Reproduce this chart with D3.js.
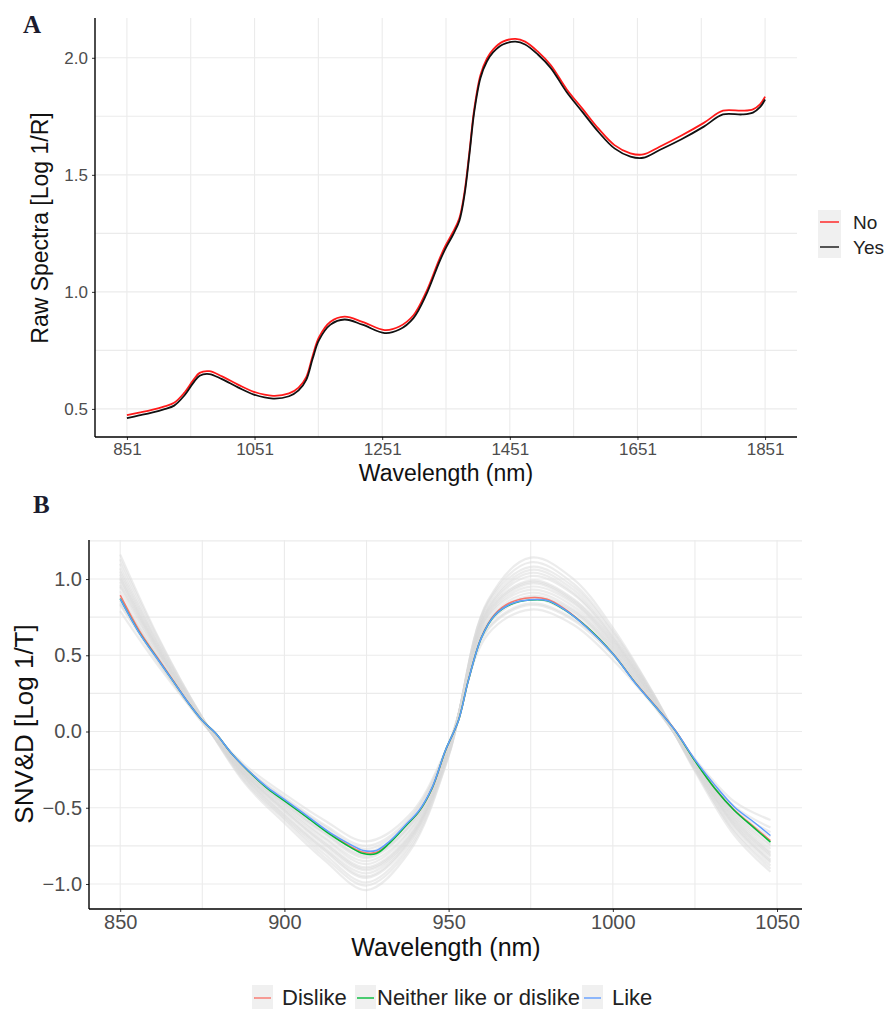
<!DOCTYPE html>
<meta charset="UTF-8">
<style>
body { margin: 0; background: #fff; }
.tick text { font-family: "Liberation Sans", Arial, sans-serif; fill: #4d4d4d; }
.tick line { stroke: #333; }
.domain { display: none; }
</style>
<body>
<div class="chart"></div>
<script src="https://d3js.org/d3.v7.min.js"></script>
<script>
// ---- Panel A: raw spectra, mean of No / Yes ----
var wlA = [851, 870, 890, 910, 925, 940, 955, 965, 980, 1000, 1025, 1050, 1080, 1105, 1120, 1132, 1142, 1152,
  1170, 1192, 1220, 1255, 1278, 1300, 1320, 1340, 1350, 1362, 1372, 1380, 1388, 1395, 1405, 1415, 1425, 1440,
  1460, 1475, 1495, 1515, 1540, 1565, 1590, 1615, 1640, 1660, 1685, 1720, 1755, 1785, 1815, 1832, 1843, 1851];
var noA = [0.473, 0.484, 0.496, 0.511, 0.526, 0.566, 0.623, 0.654, 0.661, 0.639, 0.604, 0.573, 0.556, 0.566, 0.591,
  0.636, 0.726, 0.806, 0.872, 0.894, 0.872, 0.837, 0.852, 0.900, 1.000, 1.136, 1.196, 1.256, 1.316, 1.426, 1.606,
  1.776, 1.926, 1.996, 2.036, 2.069, 2.081, 2.069, 2.026, 1.969, 1.866, 1.782, 1.697, 1.627, 1.592, 1.587, 1.619,
  1.668, 1.722, 1.774, 1.774, 1.780, 1.801, 1.834];
var yesA = [0.461, 0.472, 0.484, 0.499, 0.514, 0.554, 0.611, 0.642, 0.649, 0.627, 0.592, 0.561, 0.544, 0.554, 0.579,
  0.624, 0.714, 0.794, 0.860, 0.882, 0.860, 0.824, 0.839, 0.888, 0.988, 1.124, 1.184, 1.244, 1.304, 1.414, 1.594,
  1.764, 1.914, 1.984, 2.024, 2.057, 2.069, 2.057, 2.014, 1.957, 1.854, 1.768, 1.683, 1.613, 1.578, 1.573, 1.605,
  1.652, 1.706, 1.758, 1.758, 1.766, 1.789, 1.822];
var ticksA_x = [851, 1051, 1251, 1451, 1651, 1851];
var ticksA_y = [0.5, 1.0, 1.5, 2.0];

// ---- Panel B: SNV & derivative, class means ----
var wlB = [850, 856, 861, 866, 871, 875, 879, 884, 889, 895, 900, 907, 914, 920, 924, 928, 932, 937, 941, 945,
  949, 953, 956, 960, 964, 969, 975, 980, 985, 992, 1000, 1007, 1014, 1019, 1025, 1031, 1037, 1043, 1048];
var dislikeB = [0.895, 0.655, 0.495, 0.338, 0.182, 0.072, -0.01, -0.146, -0.258, -0.374, -0.452, -0.562, -0.672,
  -0.752, -0.792, -0.792, -0.728, -0.616, -0.524, -0.372, -0.128, 0.072, 0.334, 0.62, 0.768, 0.848, 0.878, 0.868,
  0.81, 0.688, 0.512, 0.316, 0.14, 0.008, -0.19, -0.37, -0.515, -0.625, -0.715];
var neitherB = [0.872, 0.642, 0.488, 0.334, 0.18, 0.072, -0.01, -0.146, -0.258, -0.376, -0.455, -0.565, -0.676,
  -0.758, -0.800, -0.800, -0.732, -0.618, -0.524, -0.37, -0.126, 0.072, 0.334, 0.616, 0.76, 0.835, 0.862, 0.857,
  0.802, 0.686, 0.51, 0.314, 0.138, 0.006, -0.192, -0.372, -0.518, -0.632, -0.725];
var likeB = [0.87, 0.64, 0.487, 0.334, 0.18, 0.072, -0.01, -0.146, -0.256, -0.37, -0.445, -0.555, -0.665, -0.74,
  -0.78, -0.78, -0.72, -0.61, -0.518, -0.366, -0.125, 0.072, 0.334, 0.616, 0.761, 0.837, 0.864, 0.859, 0.804,
  0.684, 0.51, 0.313, 0.138, 0.007, -0.185, -0.35, -0.495, -0.595, -0.682];

// individual spectra (grey), coarser grid
var wlS = [850, 862, 875, 888, 900, 912, 925, 938, 950, 962, 975, 988, 1000, 1012, 1025, 1037, 1048];
var spectraB = [
  [0.79, 0.42, 0.07, -0.22, -0.41, -0.58, -0.72, -0.55, -0.08, 0.64, 0.80, 0.70, 0.47, 0.18, -0.18, -0.46, -0.58],
  [0.83, 0.44, 0.07, -0.24, -0.43, -0.61, -0.75, -0.57, -0.09, 0.67, 0.83, 0.73, 0.50, 0.19, -0.19, -0.49, -0.63],
  [0.88, 0.47, 0.08, -0.25, -0.46, -0.64, -0.79, -0.60, -0.10, 0.70, 0.87, 0.76, 0.52, 0.20, -0.20, -0.52, -0.69],
  [0.86, 0.45, 0.06, -0.26, -0.47, -0.66, -0.81, -0.62, -0.11, 0.71, 0.88, 0.78, 0.53, 0.20, -0.21, -0.54, -0.74],
  [0.92, 0.49, 0.08, -0.26, -0.48, -0.67, -0.83, -0.63, -0.11, 0.73, 0.91, 0.80, 0.55, 0.21, -0.21, -0.55, -0.75],
  [0.95, 0.50, 0.08, -0.27, -0.49, -0.69, -0.85, -0.65, -0.12, 0.75, 0.93, 0.82, 0.56, 0.22, -0.22, -0.56, -0.77],
  [0.96, 0.51, 0.07, -0.28, -0.50, -0.70, -0.87, -0.66, -0.12, 0.76, 0.95, 0.84, 0.57, 0.22, -0.22, -0.57, -0.79],
  [0.98, 0.52, 0.08, -0.28, -0.51, -0.72, -0.89, -0.68, -0.13, 0.77, 0.97, 0.85, 0.58, 0.23, -0.22, -0.58, -0.80],
  [1.01, 0.53, 0.08, -0.29, -0.52, -0.74, -0.91, -0.70, -0.13, 0.79, 0.99, 0.87, 0.60, 0.23, -0.23, -0.60, -0.82],
  [1.03, 0.54, 0.08, -0.30, -0.54, -0.76, -0.93, -0.71, -0.14, 0.80, 1.02, 0.90, 0.61, 0.24, -0.23, -0.61, -0.84],
  [1.05, 0.55, 0.09, -0.30, -0.55, -0.77, -0.95, -0.72, -0.14, 0.81, 1.04, 0.91, 0.62, 0.24, -0.24, -0.62, -0.85],
  [1.07, 0.56, 0.08, -0.31, -0.56, -0.78, -0.96, -0.73, -0.15, 0.82, 1.06, 0.93, 0.63, 0.25, -0.24, -0.63, -0.86],
  [1.10, 0.57, 0.09, -0.32, -0.57, -0.80, -0.99, -0.75, -0.15, 0.84, 1.08, 0.95, 0.65, 0.25, -0.25, -0.65, -0.88],
  [1.13, 0.59, 0.09, -0.33, -0.58, -0.82, -1.01, -0.77, -0.16, 0.85, 1.11, 0.97, 0.66, 0.26, -0.25, -0.66, -0.90],
  [1.16, 0.60, 0.09, -0.34, -0.60, -0.84, -1.04, -0.79, -0.16, 0.86, 1.14, 1.00, 0.68, 0.26, -0.26, -0.68, -0.92],
  [0.84, 0.45, 0.06, -0.24, -0.44, -0.62, -0.77, -0.58, -0.09, 0.68, 0.84, 0.74, 0.51, 0.19, -0.20, -0.51, -0.66],
  [0.89, 0.47, 0.07, -0.26, -0.47, -0.66, -0.82, -0.62, -0.10, 0.72, 0.89, 0.79, 0.54, 0.21, -0.20, -0.53, -0.72],
  [1.00, 0.52, 0.08, -0.28, -0.52, -0.73, -0.90, -0.69, -0.13, 0.78, 0.98, 0.86, 0.59, 0.23, -0.23, -0.59, -0.81]
];
var ticksB_x = [850, 900, 950, 1000, 1050];
var ticksB_y = [-1.0, -0.5, 0.0, 0.5, 1.0];

var width = 887, height = 1009;
var font = '"Liberation Sans", Arial, sans-serif';
var svg = d3.select(".chart").append("svg")
  .attr("width", width).attr("height", height);

function zip(xs, ys) { return xs.map(function (x, i) { return [x, ys[i]]; }); }

function drawGrid(g, x, y, xs, ys) {
  var x0 = x.range()[0], x1 = x.range()[1], y0 = y.range()[0], y1 = y.range()[1];
  g.selectAll(".gx").data(xs).enter().append("line")
    .attr("x1", function (d) { return x(d); }).attr("x2", function (d) { return x(d); })
    .attr("y1", y0).attr("y2", y1)
    .attr("stroke", "#ebebeb").attr("stroke-width", 1.1);
  g.selectAll(".gy").data(ys).enter().append("line")
    .attr("y1", function (d) { return y(d); }).attr("y2", function (d) { return y(d); })
    .attr("x1", x0).attr("x2", x1)
    .attr("stroke", "#ebebeb").attr("stroke-width", 1.1);
}

function drawAxes(g, x, y, tx, ty, fs) {
  var ax = g.append("g").attr("transform", "translate(0," + y.range()[0] + ")")
    .call(d3.axisBottom(x).tickValues(tx).tickSize(3).tickPadding(3).tickFormat(d3.format("d")));
  ax.selectAll("text").style("font-size", fs + "px");
  var ay = g.append("g").attr("transform", "translate(" + x.range()[0] + ",0)")
    .call(d3.axisLeft(y).tickValues(ty).tickSize(3).tickPadding(4).tickFormat(d3.format(".1f")));
  ay.selectAll("text").style("font-size", fs + "px");
  // axis lines
  g.append("line").attr("x1", x.range()[0]).attr("x2", x.range()[0])
    .attr("y1", y.range()[0]).attr("y2", y.range()[1]).attr("stroke", "#000").attr("stroke-width", 1.4);
  g.append("line").attr("x1", x.range()[0]).attr("x2", x.range()[1])
    .attr("y1", y.range()[0]).attr("y2", y.range()[0]).attr("stroke", "#000").attr("stroke-width", 1.4);
}

// ---------- Panel A ----------
var gA = svg.append("g");
var xA = d3.scaleLinear().domain([801, 1901]).range([95, 797]);
var yA = d3.scaleLinear().domain([0.38, 2.17]).range([437, 18]);
drawGrid(gA, xA, yA, d3.range(851, 1900, 100), d3.range(0.5, 2.01, 0.25));

var lineA = d3.line().curve(d3.curveCatmullRom.alpha(0.5))
  .x(function (d) { return xA(d[0]); }).y(function (d) { return yA(d[1]); });
gA.append("path").datum(zip(wlA, noA)).attr("d", lineA)
  .attr("fill", "none").attr("stroke", "#ff1a1a").attr("stroke-width", 1.8);
gA.append("path").datum(zip(wlA, yesA)).attr("d", lineA)
  .attr("fill", "none").attr("stroke", "#111").attr("stroke-width", 1.8);
drawAxes(gA, xA, yA, ticksA_x, ticksA_y, 17);

gA.append("text").attr("x", 446).attr("y", 481).attr("text-anchor", "middle")
  .style("font-family", font).style("font-size", "23px").attr("fill", "#111").text("Wavelength (nm)");
gA.append("text").attr("transform", "translate(48,228) rotate(-90)").attr("text-anchor", "middle")
  .style("font-family", font).style("font-size", "23px").attr("fill", "#111").text("Raw Spectra [Log 1/R]");
svg.append("text").attr("x", 23).attr("y", 33)
  .style("font-family", '"Liberation Serif", "Times New Roman", serif').style("font-weight", "bold")
  .style("font-size", "25px").attr("fill", "#1b1b2e").text("A");

// legend A
var legA = [{ k: "No", c: "#ff1a1a" }, { k: "Yes", c: "#111" }];
svg.append("rect").attr("x", 818).attr("y", 210).attr("width", 23).attr("height", 48).attr("fill", "#f0f0f0");
legA.forEach(function (d, i) {
  var yy = 222 + i * 25;
  svg.append("line").attr("x1", 820).attr("x2", 839).attr("y1", yy).attr("y2", yy)
    .attr("stroke", d.c).attr("stroke-width", 1.4);
  svg.append("text").attr("x", 853).attr("y", yy + 7).style("font-family", font)
    .style("font-size", "19px").attr("fill", "#222").text(d.k);
});

// ---------- Panel B ----------
var gB = svg.append("g");
var xB = d3.scaleLinear().domain([840.5, 1057.6]).range([89, 802]);
var yB = d3.scaleLinear().domain([-1.164, 1.256]).range([909, 540]);
drawGrid(gB, xB, yB, d3.range(850, 1051, 25), d3.range(-1.0, 1.26, 0.25));

var lineS = d3.line().curve(d3.curveCatmullRom.alpha(0.5))
  .x(function (d) { return xB(d[0]); }).y(function (d) { return yB(d[1]); });
gB.selectAll(".spec").data(spectraB).enter().append("path")
  .attr("d", function (d) { return lineS(zip(wlS, d)); })
  .attr("fill", "none").attr("stroke", "#dadada").attr("stroke-opacity", 0.5).attr("stroke-width", 2.2);

var meansB = [
  { name: "Dislike", c: "#F8766D", v: dislikeB },
  { name: "Neither like or dislike", c: "#00BA38", v: neitherB },
  { name: "Like", c: "#619CFF", v: likeB }
];
meansB.forEach(function (m) {
  gB.append("path").datum(zip(wlB, m.v)).attr("d", lineS)
    .attr("fill", "none").attr("stroke", m.c).attr("stroke-width", 1.5);
});
drawAxes(gB, xB, yB, ticksB_x, ticksB_y, 20);

gB.append("text").attr("x", 446).attr("y", 956).attr("text-anchor", "middle")
  .style("font-family", font).style("font-size", "25px").attr("fill", "#111").text("Wavelength (nm)");
gB.append("text").attr("transform", "translate(33,724) rotate(-90)").attr("text-anchor", "middle")
  .style("font-family", font).style("font-size", "26px").attr("fill", "#111").text("SNV&D [Log 1/T]");
svg.append("text").attr("x", 33).attr("y", 513)
  .style("font-family", '"Liberation Serif", "Times New Roman", serif').style("font-weight", "bold")
  .style("font-size", "25px").attr("fill", "#1b1b2e").text("B");

// legend B (bottom)
var legX = [252, 355, 582];
meansB.forEach(function (m, i) {
  var x0 = legX[i];
  svg.append("rect").attr("x", x0).attr("y", 985).attr("width", 21).attr("height", 24).attr("fill", "#f0f0f0");
  svg.append("line").attr("x1", x0 + 2).attr("x2", x0 + 19).attr("y1", 998).attr("y2", 998)
    .attr("stroke", m.c).attr("stroke-width", 1.4);
  svg.append("text").attr("x", x0 + (i === 1 ? 22 : 30)).attr("y", 1005).style("font-family", font)
    .style("font-size", "22px").attr("fill", "#222").text(m.name);
});
</script>
</body>
